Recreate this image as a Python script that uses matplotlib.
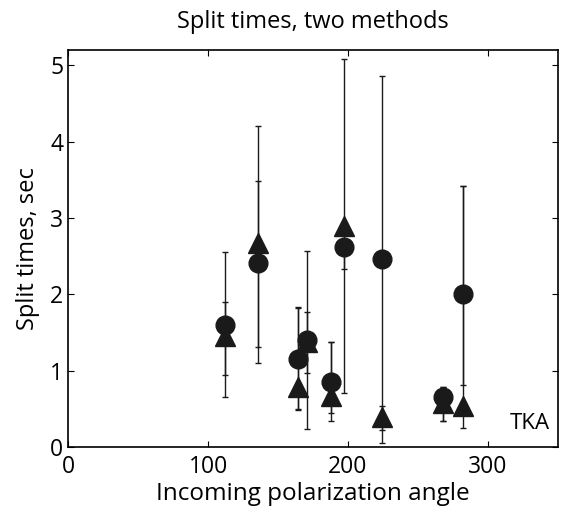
import numpy as np
import matplotlib.pyplot as plt

# Datos
angle = [112, 136, 164, 171, 188, 197, 224, 268, 282]

circ = [1.60, 2.41, 1.15, 1.40, 0.85, 2.62, 2.46, 0.65, 2.00]
circ_lo = [0.94, 1.31, 0.50, 0.97, 0.44, 2.33, 0.05, 0.34, 0.81]
circ_hi = [1.90, 3.49, 1.83, 1.77, 1.37, 2.72, 4.86, 0.78, 3.42]

tri = [1.45, 2.67, 0.79, 1.37, 0.66, 2.90, 0.39, 0.58, 0.54]
tri_lo = [0.65, 1.10, 0.48, 0.23, 0.34, 0.71, 0.22, 0.34, 0.25]
tri_hi = [2.55, 4.20, 1.82, 2.57, 1.37, 5.09, 0.54, 0.78, 3.42]

plt.rcParams['font.family'] = ['Open Sans', 'DejaVu Sans']

fig = plt.figure(figsize=(5.78, 5.22), dpi=100)
ax = fig.add_axes([0.118, 0.144, 0.847, 0.760])

c = np.array(circ)
t = np.array(tri)
ax.errorbar(angle, c, yerr=[c - np.array(circ_lo), np.array(circ_hi) - c],
            fmt='o', color='#1a1a1a', markersize=13.5, ecolor='#1a1a1a',
            elinewidth=1, capsize=2.5, capthick=1)
ax.errorbar(angle, t, yerr=[t - np.array(tri_lo), np.array(tri_hi) - t],
            fmt='^', color='#1a1a1a', markersize=14.5, ecolor='#1a1a1a',
            elinewidth=1, capsize=2.5, capthick=1)

ax.set_xlim(0, 350)
ax.set_ylim(0, 5.2)
ax.set_xticks([0, 100, 200, 300])
ax.set_yticks([0, 1, 2, 3, 4, 5])
ax.tick_params(direction='in', top=True, right=True, length=4, labelsize=16.5)
ax.tick_params(axis='x', pad=6)
for s in ax.spines.values():
    s.set_linewidth(1.2)

ax.set_xlabel('Incoming polarization angle', fontsize=17.5, labelpad=2)
ax.set_ylabel('Split times, sec', fontsize=17, labelpad=7)
ax.set_title('Split times, two methods', fontsize=17, pad=16)
ax.text(344, 0.30, 'TKA', fontsize=16, ha='right', va='center')

fig.savefig('out.png', dpi=100)
